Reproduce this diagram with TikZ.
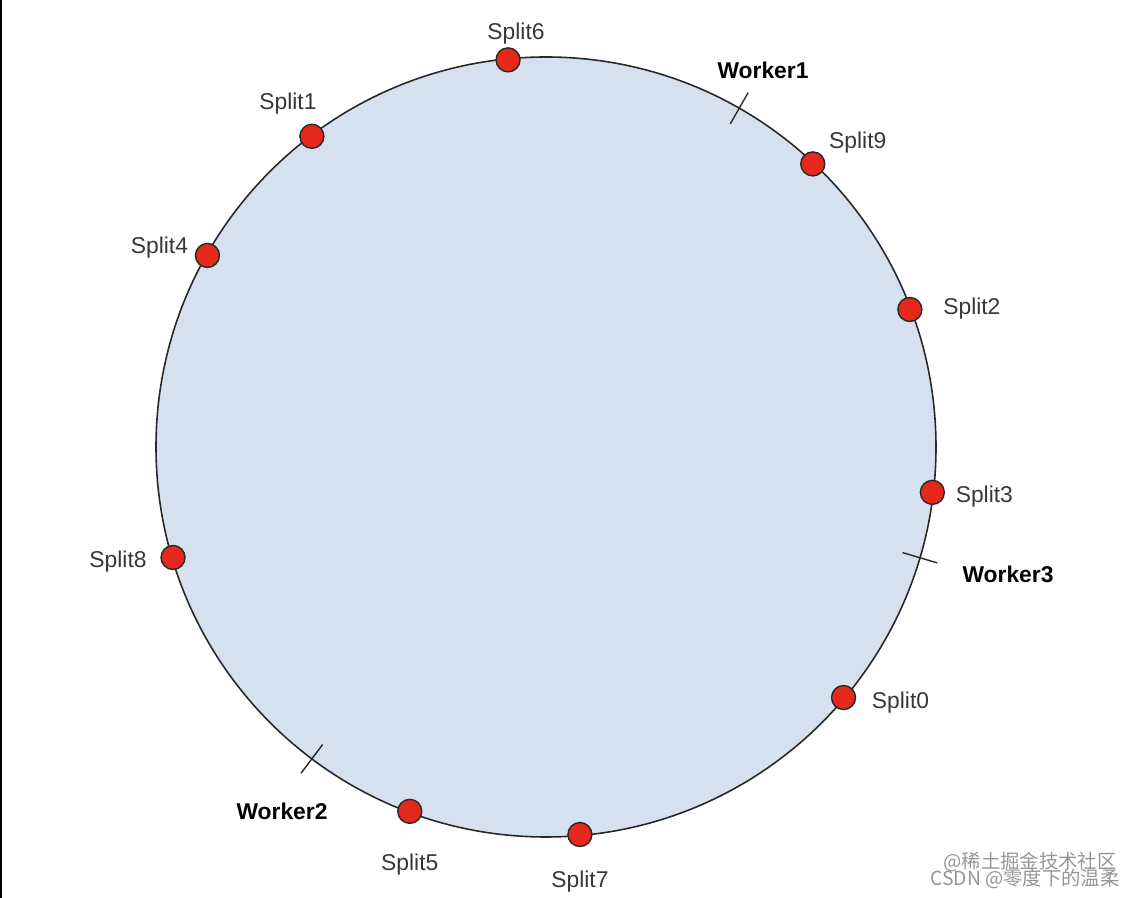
\documentclass[tikz,border=0pt]{standalone}
\usepackage{fontspec}
\setmainfont{Liberation Sans}
\newfontfamily\cjkfont{Noto Sans CJK SC}
\usetikzlibrary{positioning}
\definecolor{ringblue}{RGB}{213, 225, 238}
\definecolor{splitred}{RGB}{230, 40, 28}
\definecolor{edgegray}{RGB}{40, 40, 40}
\definecolor{labelgray}{RGB}{55, 55, 55}
\definecolor{markgray}{RGB}{150, 150, 150}

\begin{document}
\begin{tikzpicture}[
        x=0.02cm, y=0.02cm,
        ring/.style={draw=edgegray, line width=0.9pt, fill=ringblue},
        split/.style={circle, draw=edgegray, line width=0.8pt, fill=splitred,
                      inner sep=0pt, minimum size=0.48cm},
        splitlbl/.style={font=\fontsize{13}{15}\selectfont, text=labelgray,
                         yshift=-0.06cm},
        worker/.style={font=\fontsize{13}{15}\selectfont\bfseries, text=black},
        tickline/.style={draw=edgegray, line width=0.8pt},
        wmark/.style={font=\cjkfont\fontsize{11}{13}\selectfont, text=markgray}
      ]
        \useasboundingbox (0,0) rectangle (1135,898);
        \draw[line width=1.2pt, black] (1,0) -- (1,898);
        \coordinate (c) at (546,451);
        \draw[ring] (c) circle (390);
        % worker boundaries
        \foreach \a in {60.3, -16.5, 233.1}
          \draw[tickline] ([shift={(\a:372)}]c) -- ([shift={(\a:408)}]c);
        \node[worker] (w1) at (763,828) {Worker1};
        \node[worker] (w3) at (1008,324) {Worker3};
        \node[worker] (w2) at (282,87)  {Worker2};
        % splits
        \foreach \a/\n/\dx/\dy in {95.6/6/8/29, 127/1/-24/36, 150.5/4/-48/11,
                                   46.7/9/45/24, 20.7/2/62/4, -6.7/3/52/-1,
                                   196.5/8/-55/-1, -40.1/0/57/-2,
                                   249.5/5/0/-50, 275/7/0/-44} {
          \node[split] (s\n) at ([shift={(\a:389)}]c) {};
          \node[splitlbl] (l\n) at ([shift={(\dx,\dy)}]s\n) {Split\n};
        }
        \node[wmark] (m1) at (1030,36) {@稀土掘金技术社区};
        \node[wmark] (m2) at (1025,19) {CSDN @零度下的温柔};
      \end{tikzpicture}
\end{document}
